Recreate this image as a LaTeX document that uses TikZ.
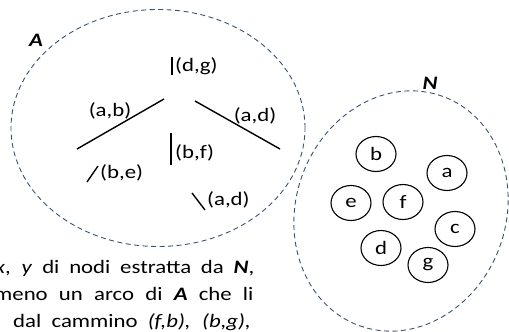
\documentclass[tikz,border=0pt]{standalone}
\usepackage{fontspec}
\setmainfont{Carlito}
\usetikzlibrary{shapes.geometric}
\definecolor{setcol}{HTML}{3A5272}
\newcommand{\hs}[1]{\scalebox{1.2}[1]{#1}}
\tikzset{
  setline/.style={draw=setcol, line width=0.9pt, dash pattern=on 5pt off 3.5pt, ellipse, inner sep=0pt},
  vert/.style={draw, ellipse, line width=1.1pt, minimum width=40pt, minimum height=35pt, inner sep=0pt, font=\fontsize{19}{23}\selectfont},
  edge/.style={line width=1.4pt},
  lab/.style={inner sep=0pt, font=\fontsize{19}{23}\selectfont},
  setname/.style={inner sep=0pt, font=\fontsize{19}{23}\selectfont\bfseries\itshape},
  para/.style={inner sep=0pt, anchor=base west, font=\fontsize{19}{23}\selectfont}
}
\begin{document}
\begin{tikzpicture}[x=1pt,y=-1pt]
\useasboundingbox (0,0) rectangle (509,332);
\clip (0,0) rectangle (509,332);
% sets
\node[setline, minimum width=294pt, minimum height=237pt] (A) at (158,128) {};
\node[setline, minimum width=210pt, minimum height=244pt, rotate=-20] (N) at (401,211) {};
\node[setname] (Alab) at (36,40) {\hs{A}};
\node[setname] (Nlab) at (430,83) {\hs{N}};
% vertices
\node[vert] (b) at (376,154) {\hs{b}};
\node[vert] (a) at (447,173) {\hs{a}};
\node[vert] (e) at (351,203) {\hs{e}};
\node[vert] (f) at (403,202) {\hs{f}};
\node[vert] (c) at (455,229) {\hs{c}};
\node[vert] (d) at (381,248) {\hs{d}};
\node[vert] (g) at (428,265) {\hs{g}};
% tree of arcs
\coordinate (l1) at (77,149); \coordinate (l2) at (164,99);
\coordinate (r1) at (195,101); \coordinate (r2) at (280,149);
\draw[edge] (l1) -- (l2);
\draw[edge] (r1) -- (r2);
\coordinate (dg1) at (172,57); \coordinate (dg2) at (172,75);
\draw[line width=1.1pt] (dg1) -- (dg2);
\node[lab, anchor=west] (dg) at (175,66) {\hs{(d,g)}};
\node[lab] (ab) at (110,111) {\hs{(a,b)}};
\node[lab] (ad1) at (255,116) {\hs{(a,d)}};
\coordinate (bf1) at (171,133); \coordinate (bf2) at (171,165);
\draw[edge] (bf1) -- (bf2);
\node[lab, anchor=west] (bf) at (175,153) {\hs{(b,f)}};
\coordinate (be1) at (87,182); \coordinate (be2) at (98,166);
\draw[edge] (be1) -- (be2);
\node[lab, anchor=west] (be) at (100,173) {\hs{(b,e)}};
\coordinate (ad2a) at (192,193); \coordinate (ad2b) at (205,210);
\draw[edge] (ad2a) -- (ad2b);
\node[lab, anchor=west] (ad2) at (207,200) {\hs{(a,d)}};
% paragraph (cropped)
\node[para] (p1) at (-5,273) {\hs{\makebox[216pt][s]{\textit{x}, \textit{y} di nodi estratta da \textbf{\textit{N}},}}};
\node[para] (p2) at (-6,300) {\hs{\makebox[216pt][s]{meno un arco di \textbf{\textit{A}} che li}}};
\node[para] (p3) at (13,327) {\hs{\makebox[198pt][s]{dal cammino \textit{(f,b), (b,g),}}}};
\end{tikzpicture}
\end{document}
